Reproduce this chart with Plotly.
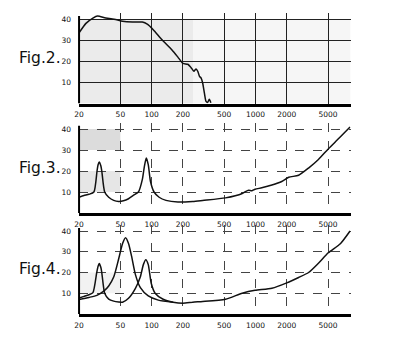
import numpy as np
import plotly.graph_objects as go

# ---------------- data ----------------
freq_ticks = [20, 50, 100, 200, 500, 1000, 2000, 5000]
freq_tick_labels = ["20", "50", "100", "200", "500", "1000", "2000", "5000"]
db_ticks = [10, 20, 30, 40]
db_tick_labels = ["10", "20", "30", "40"]
panel_labels = ["Fig.2.", "Fig.3.", "Fig.4."]

fig2_freq = [20, 23.3, 27.2, 30.1, 36.1, 45, 52.4, 65.4, 81.4, 90.8, 103.6, 126, 157, 179,
             200, 223, 240, 255, 268, 278, 289, 299, 310, 322, 334, 346, 359, 372]
fig2_db = [33.5, 38, 40.5, 41.5, 40.5, 39.8, 39, 38.6, 38.6, 37.6, 35, 30.2, 25.4, 22,
           19, 18.6, 17, 15.3, 16.4, 15.3, 12.9, 12.1, 9.7, 5, 1, 0.5, 2, 0.3]

fig3_freq = [20, 22.3, 24.9, 27.8, 29.8, 30.5, 31.3, 32.4, 33.1, 35.3, 38.6, 43.1, 48.1,
             53.5, 59.9, 67, 74.6, 81.4, 85, 88.8, 92.8, 97.5, 105.5, 118, 137.5, 179,
             249, 310, 514, 745, 800, 860, 920, 991, 1150, 1439, 1790, 2090, 2602,
             3243, 4040, 5024, 6400, 8140]
fig3_db = [7.5, 8.3, 8.9, 10, 20, 23, 24.3, 22.5, 20, 10, 7.5, 6, 5.5,
           5.8, 6.8, 8.5, 10, 16, 22, 26.2, 23, 15, 10, 7.5, 6, 5.2,
           5.5, 6.0, 7.2, 9.3, 10.2, 10.8, 10.6, 11.3, 12, 13.3, 15, 17, 18,
           21.4, 25.5, 30.5, 35.7, 41]

fig4a_freq = [20, 22.3, 24.9, 27.2, 29.6, 30.5, 31.3, 32.4, 33.1, 35.3, 38.6, 43.1, 48.1,
              52.5, 59.9, 69.8, 77.9, 83.2, 87.9, 92.8, 99.1, 108, 129, 161, 200,
              249, 310, 514, 745, 991, 1439, 2000, 2602, 3243, 4040, 5024, 6600, 8140]
fig4a_db = [7.7, 8.5, 9.3, 10.3, 20, 23, 24.3, 22.5, 20, 10, 7.2, 6.2, 5.8,
            5.7, 7.6, 12.4, 18, 23.8, 26.2, 23.8, 14.8, 10, 7.1, 5.7, 5.2,
            5.7, 6.0, 7.1, 10, 11.4, 12.4, 15, 17.6, 20, 24.5, 29.5, 34, 40]

fig4b_freq = [20, 24.9, 29.7, 34.6, 38.6, 43.1, 48.1, 52.5, 56.1, 59.9, 64, 69.8, 77.9,
              92.8, 116, 161]
fig4b_db = [7.0, 8.0, 9.0, 11, 13.5, 17.8, 26.5, 34, 36.8, 34, 28, 19, 12.7,
            8.7, 6.7, 5.7]

# ---------------- layout geometry ----------------
W, H = 397, 337
x_dom = [75 / W, 350 / W]
x_range = [np.log10(20), np.log10(8240)]
y_doms = [[1 - 103.5 / H, 1 - 12.8 / H],
          [1 - 213 / H, 1 - 122.7 / H],
          [1 - 314 / H, 1 - 224.8 / H]]
label_y = [58, 168, 269]

fig = go.Figure()

series = [
    [(fig2_freq, fig2_db)],
    [(fig3_freq, fig3_db)],
    [(fig4a_freq, fig4a_db), (fig4b_freq, fig4b_db)],
]

tick_font = dict(family="DejaVu Sans", size=7.5, color="#111")

for i in range(3):
    n = "" if i == 0 else str(i + 1)
    xa, ya = "x" + n, "y" + n
    for fx, fy in series[i]:
        fig.add_trace(go.Scatter(x=fx, y=fy, xaxis=xa, yaxis=ya, mode="lines",
                                 line=dict(color="#111", width=1.5, shape="spline",
                                           smoothing=0.6),
                                 showlegend=False, hoverinfo="skip"))
    solid = (i == 0)
    fig.layout["xaxis" + n] = dict(
        domain=x_dom, type="log", range=x_range, anchor=ya,
        tickvals=freq_ticks, ticktext=freq_tick_labels, tickfont=tick_font,
        showgrid=True, gridcolor="#222" if solid else "#444",
        gridwidth=1.3 if solid else 1, griddash="solid" if solid else "dash",
        showline=True, linecolor="#000", linewidth=2.5, zeroline=False,
        ticks="", ticklabelstandoff=2,
    )
    fig.layout["yaxis" + n] = dict(
        domain=y_doms[i], range=[0, 43], anchor=xa,
        tickvals=db_ticks, ticktext=db_tick_labels, tickfont=tick_font,
        showgrid=True, gridcolor="#222" if solid else "#444",
        gridwidth=1.3 if solid else 1, griddash="solid" if solid else "dash",
        showline=False, zeroline=False, ticks="", ticklabelstandoff=7,
    )
    # left axis line
    fig.add_shape(type="line", xref=xa + " domain", yref=ya, x0=0, x1=0, y0=0, y1=41.5,
                  line=dict(color="#000", width=2), layer="above")
    fig.add_annotation(text=panel_labels[i], xref="paper", yref="paper",
                       x=12 / W, y=1 - label_y[i] / H, xanchor="left", yanchor="middle",
                       showarrow=False,
                       font=dict(family="DejaVu Sans", size=15.5, color="#111"))

# shading (stippled areas)
fig.add_shape(type="rect", xref="x", yref="y", x0=20, x1=8240, y0=0, y1=40,
              fillcolor="#f6f6f6", line_width=0, layer="below")
fig.add_shape(type="rect", xref="x", yref="y", x0=20, x1=250, y0=0, y1=40,
              fillcolor="#ebebeb", line_width=0, layer="below")
fig.add_shape(type="rect", xref="x2", yref="y2", x0=20, x1=50, y0=30, y1=40,
              fillcolor="#dcdcdc", line_width=0, layer="below")
fig.add_shape(type="rect", xref="x2", yref="y2", x0=20, x1=50, y0=10, y1=20,
              fillcolor="#e6e6e6", line_width=0, layer="below")
fig.add_shape(type="rect", xref="x3", yref="y3", x0=20, x1=50, y0=10, y1=20,
              fillcolor="#f2f2f2", line_width=0, layer="below")

fig.update_layout(width=W, height=H, margin=dict(l=0, r=0, t=0, b=0),
                  paper_bgcolor="white", plot_bgcolor="white")

fig.write_html("out.html")
